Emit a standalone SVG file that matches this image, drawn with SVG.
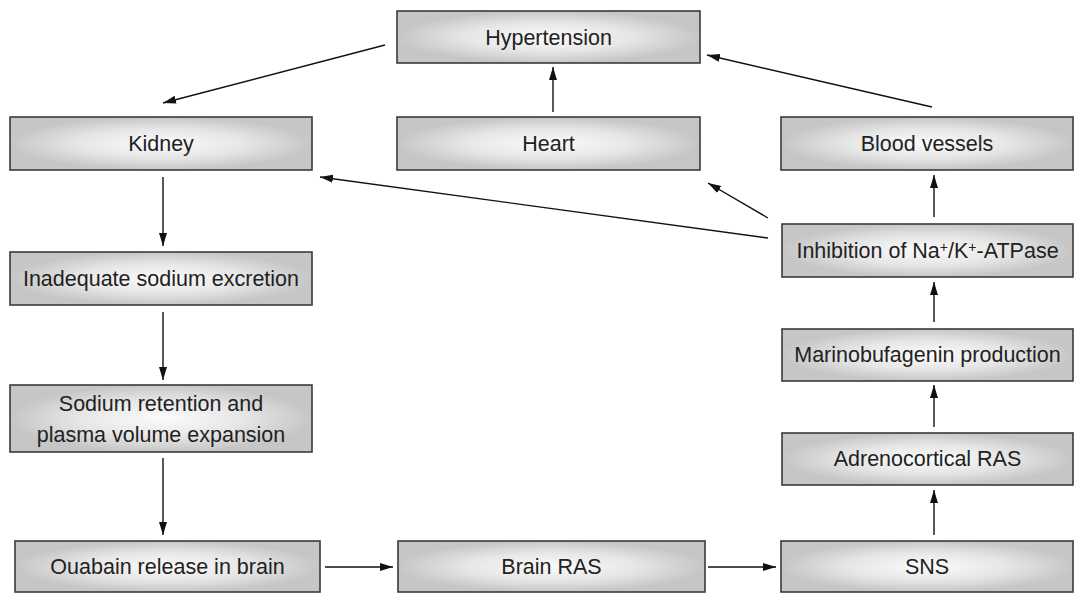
<svg xmlns="http://www.w3.org/2000/svg" width="1081" height="593" viewBox="0 0 1081 593">
<defs>
<radialGradient id="g" cx="0.5" cy="0.5" r="0.5" fx="0.5" fy="0.5">
<stop offset="0" stop-color="#fbfbfb"/>
<stop offset="0.55" stop-color="#e6e6e6"/>
<stop offset="1" stop-color="#c6c6c6"/>
</radialGradient>
<marker id="ah" markerUnits="userSpaceOnUse" markerWidth="14" markerHeight="10" refX="13" refY="5" orient="auto">
<path d="M0,1 L13,5 L0,9 Z" fill="#111"/>
</marker>
</defs>
<style>
.box{fill:url(#g);stroke:#3a3a3a;stroke-width:1.6}
.t{font-family:"Liberation Sans",Arial,sans-serif;font-size:21.5px;fill:#222;text-anchor:middle}
.c{stroke:#111;stroke-width:1.4;fill:none;marker-end:url(#ah)}
</style>
<rect width="1081" height="593" fill="#fff"/>
<g id="hypertension"><rect class="box" x="397" y="11" width="303" height="52"/><text class="t" x="548.5" y="45">Hypertension</text></g>
<g id="kidney"><rect class="box" x="10" y="117" width="302" height="53"/><text class="t" x="161" y="151">Kidney</text></g>
<g id="heart"><rect class="box" x="397" y="117" width="303" height="53"/><text class="t" x="548.5" y="151">Heart</text></g>
<g id="bloodvessels"><rect class="box" x="781" y="117" width="292" height="53"/><text class="t" x="927" y="151">Blood vessels</text></g>
<g id="inhibition"><rect class="box" x="782" y="224" width="291" height="53"/><text class="t" x="927.5" y="258">Inhibition of Na<tspan font-size="14" dy="-6">+</tspan><tspan dy="6">/K</tspan><tspan font-size="14" dy="-6">+</tspan><tspan dy="6">-ATPase</tspan></text></g>
<g id="marinobufagenin"><rect class="box" x="782" y="329" width="291" height="52"/><text class="t" x="927.5" y="362">Marinobufagenin production</text></g>
<g id="adrenocortical"><rect class="box" x="782" y="433" width="291" height="52"/><text class="t" x="927.5" y="466">Adrenocortical RAS</text></g>
<g id="inadequate"><rect class="box" x="10" y="252" width="302" height="53"/><text class="t" x="161" y="286">Inadequate sodium excretion</text></g>
<g id="sodiumretention"><rect class="box" x="10" y="385" width="302" height="67"/><text class="t" x="161" y="411">Sodium retention and</text><text class="t" x="161" y="442">plasma volume expansion</text></g>
<g id="ouabain"><rect class="box" x="15" y="541" width="305" height="51"/><text class="t" x="167.5" y="574">Ouabain release in brain</text></g>
<g id="brainras"><rect class="box" x="398" y="541" width="307" height="51"/><text class="t" x="551.5" y="574">Brain RAS</text></g>
<g id="sns"><rect class="box" x="781" y="541" width="292" height="51"/><text class="t" x="927" y="574">SNS</text></g>
<g id="connectors">
<line class="c" x1="385" y1="45" x2="163" y2="103"/>
<line class="c" x1="553" y1="112" x2="553" y2="67"/>
<line class="c" x1="932" y1="107" x2="707" y2="55"/>
<line class="c" x1="163" y1="177" x2="163" y2="246"/>
<line class="c" x1="163" y1="312" x2="163" y2="380"/>
<line class="c" x1="163" y1="458" x2="163" y2="535"/>
<line class="c" x1="325" y1="567" x2="393" y2="567"/>
<line class="c" x1="708" y1="567" x2="776" y2="567"/>
<line class="c" x1="934" y1="535" x2="934" y2="490"/>
<line class="c" x1="934" y1="427" x2="934" y2="385"/>
<line class="c" x1="934" y1="322" x2="934" y2="282"/>
<line class="c" x1="934" y1="217" x2="934" y2="175"/>
<line class="c" x1="768" y1="238" x2="320" y2="177"/>
<line class="c" x1="768" y1="218" x2="708" y2="183"/>
</g>
</svg>
